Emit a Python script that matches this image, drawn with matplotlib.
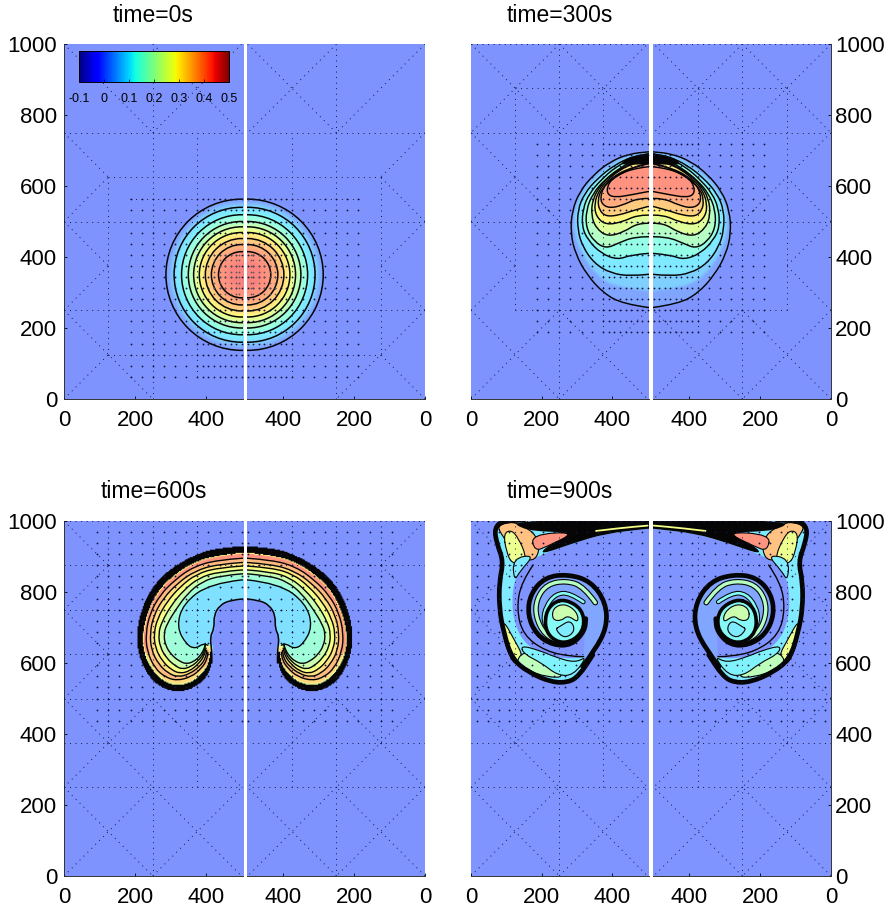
import numpy as np
import matplotlib
matplotlib.use('Agg')
import matplotlib.pyplot as plt
from matplotlib.path import Path
from matplotlib.patches import PathPatch, Circle
from matplotlib.cm import ScalarMappable
from matplotlib.colors import Normalize

plt.rcParams['font.family'] = ['Liberation Sans', 'DejaVu Sans']

FIG_W, FIG_H = 889, 914
jet = plt.get_cmap('jet')
norm = Normalize(-0.1, 0.5)

titles = ['time=0s', 'time=300s', 'time=600s', 'time=900s']
y_ticks = [0, 200, 400, 600, 800, 1000]
x_ticks = [0, 200, 400]
cbar_ticks = [-0.1, 0, 0.1, 0.2, 0.3, 0.4, 0.5]
cbar_labels = ['-0.1', '0', '0.1', '0.2', '0.3', '0.4', '0.5']

# time=0s, concentric contours around the bubble centre
p1_center = (500, 350)
p1_radii = [213, 190, 169, 150, 135, 119, 102, 85, 65]
p1_shade_radii = [213, 202, 190, 169, 150, 135, 119, 102, 85, 65, 40]
p1_shade_values = [0.02, 0.06, 0.1, 0.15, 0.2, 0.26, 0.31, 0.35, 0.39, 0.42, 0.44]

# time=300s, contours from bottom of the bubble up and back to the top (x=500 both ends)
p2_k0 = [(500,258),(430,268),(375,298),(328,350),(296,408),(282,467),(286,530),(308,585),(347,632),(396,670),(450,691),(500,696)]
p2_shade = [(500,305),(425,312),(372,335),(332,378),(305,430),(292,472),(292,528),(314,582),(353,626),(400,664),(452,686),(500,693)]
p2_k1 = [(500,351),(453,346),(396,354),(349,382),(316,429),(302,476),(302,532),(321,579),(359,622),(406,659),(453,681),(500,690)]
p2_k2 = [(500,410),(453,406),(415,392),(368,410),(331,448),(314,485),(317,537),(335,579),(368,617),(410,654),(457,678),(500,687)]
p2_k3 = [(500,457),(462,457),(415,438),(382,424),(349,443),(326,481),(326,532),(345,579),(378,617),(420,650),(462,673),(500,685)]
p2_k4 = [(500,495),(471,495),(434,471),(387,457),(354,481),(340,518),(345,565),(368,603),(396,631),(434,654),(471,671),(500,681)]
p2_k5 = [(500,518),(471,518),(429,499),(382,490),(354,514),(349,551),(363,589),(387,617),(420,645),(462,664),(500,675)]
p2_k6 = [(500,542),(462,532),(420,518),(382,514),(363,532),(359,561),(368,589),(396,617),(434,640),(471,656),(500,664)]
p2_k7 = [(500,565),(471,565),(429,546),(392,537),(368,551),(368,579),(382,607),(410,631),(443,647),(476,656),(500,662)]
p2_k8 = [(500,584),(453,575),(410,568),(387,575),(385,598),(401,622),(434,640),(471,650),(500,654)]
p2_contours = [p2_k0, p2_k1, p2_k2, p2_k3, p2_k4, p2_k5, p2_k6, p2_k7, p2_k8]
p2_shades = [p2_k0, p2_shade, p2_k1, p2_k2, p2_k3, p2_k4, p2_k5, p2_k6, p2_k7, p2_k8]
p2_values = [0.02, 0.07, 0.1, 0.14, 0.19, 0.25, 0.3, 0.35, 0.39, 0.42]
p2_cap = [(500,692),(450,685),(424,664),(432,660),(470,660),(500,662)]

# time=600s, crescent contours from the top centre round to the lobe tip
p3_c0 = [(500,929),(430,925),(364,904),(298,866),(251,820),(218,758),(202,683),(209,618),(237,561),(270,531),(317,517),(364,528),(402,561),(416,599),(416,640)]
p3_c1 = [(500,911),(430,904),(364,885),(307,848),(261,801),(234,744),(219,683),(223,627),(246,580),(279,547),(317,535),(359,545),(392,575),(406,599),(410,630)]
p3_c2 = [(500,895),(430,890),(364,871),(312,834),(270,791),(242,740),(230,683),(234,632),(256,585),(284,561),(317,550),(359,561),(387,585),(402,608),(405,630)]
p3_c3 = [(500,883),(430,878),(368,859),(320,825),(280,783),(252,733),(242,683),(246,636),(266,597),(293,571),(322,560),(355,570),(382,590),(398,612),(402,635)]
p3_c4 = [(500,873),(430,868),(372,850),(328,816),(290,773),(263,725),(253,683),(257,642),(277,605),(302,581),(327,570),(355,578),(378,597),(394,618),(400,642)]
p3_c5 = [(500,862),(435,857),(380,840),(338,806),(302,763),(275,715),(266,683),(270,646),(289,613),(313,592),(333,582),(358,590),(378,606),(393,626),(398,650)]
p3_c6 = [(500,851),(440,846),(388,829),(348,796),(315,751),(290,710),(281,683),(285,650),(303,622),(325,605),(345,597),(365,604),(382,618),(395,640),(398,655)]
p3_c7 = [(500,834),(411,824),(336,768),(317,702),(345,651),(370,640),(392,655),(405,650)]
p3_contours = [p3_c1, p3_c2, p3_c3, p3_c4, p3_c5, p3_c6, p3_c7]
p3_values = [0.42, 0.37, 0.32, 0.28, 0.22, 0.16, 0.09]
p3_hollow = [(500,780),(468,777),(439,763),(422,735),(423,697),(411,674),(416,636),(416,600)]
p3_lobe = [(223,627),(246,580),(279,547),(317,535),(359,545),(392,575),(406,599),(392,590),(359,561),(317,550),(284,561),(256,585),(234,632)]

# time=900s, sheet along the top and left wall, then the roll-up
p4_body = [(500,1000),(335,998),(194,998),(91,1000),(66,980),(73,937),(92,886),(80,829),(80,754),(92,688),(115,613),(162,574),(227,546),(275,545),(306,564),(345,623),
           (290,610),(204,623),(152,655),(124,707),(115,773),(124,839),(147,876),(194,904),(288,937),(382,965),(500,978)]
p4_outer = [(150,1002),(91,1002),(66,980),(73,937),(92,886),(80,829),(80,754),(92,688),(115,613),(162,574),(227,546),(275,545),(306,564),(345,623)]
p4_top_black = [(500,1003),(110,1006),(150,972),(290,968),(215,930),(194,904),(288,937),(382,965),(500,978)]
p4_red = [(170,962),(300,970),(215,928),(180,915)]
p4_orange = [(75,985),(110,1000),(150,985),(185,960),(195,915),(175,885),(130,900),(105,935),(85,965)]
p4_pale = [(92,965),(115,975),(135,950),(155,905),(150,880),(115,880),(100,915)]
p4_cyan_corner = [(118,895),(180,905),(140,860),(122,830)]
p4_left_yellow = [(92,720),(120,670),(150,615),(125,590),(100,640),(90,690)]
p4_bottom_green = [(125,600),(150,635),(200,610),(270,560),(215,560),(160,580)]
p4_bottom_cyan = [(140,650),(195,635),(235,618),(295,600),(330,620),(290,565),(245,565),(200,600),(150,625)]
p4_top_strip = [(354,972),(420,980),(500,987)]
p4_spine = [(316,590),(350,635),(385,700),(382,770),(340,830),(275,850),(210,842),(168,795),(160,735),(185,680),(232,650),(285,650),(322,690),(325,725)]
p4_green_arm = [(352,770),(320,815),(270,832),(215,822),(185,780),(183,730),(208,680),(250,660)]
p4_cyan_arm = [(318,772),(280,798),(240,795),(212,760),(204,720),(220,690),(250,680)]
p4_coil = [(267,780),(315,752),(322,700),(293,664),(250,655),(212,685),(210,738),(232,770)]
p4_swirl_green = [(232,755),(265,768),(300,745),(305,712),(274,735),(255,718),(230,722)]
p4_swirl_cyan = [(250,702),(282,722),(296,690),(265,668),(238,695)]
p4_tail = [(326,726),(321,688),(288,655),(237,655),(194,679)]
p4_thin = [(176,876),(143,829),(129,754),(147,679),(213,632),(288,618),(335,618)]

# adaptive mesh lines (dotted), one list per panel
p1_mesh = [((0,750),(500,750)),((125,625),(500,625)),((187,562),(500,562)),((0,500),(500,500)),((0,250),(500,250)),((125,125),(500,125)),
           ((250,0),(250,1000)),((125,125),(125,625)),((375,62),(375,750)),
           ((0,1000),(250,750)),((250,1000),(500,750)),((0,750),(125,625)),((0,500),(125,625)),((0,500),(125,375)),((0,250),(125,375)),
           ((0,250),(250,0)),((0,0),(125,125)),((250,750),(375,875)),((500,1000),(375,875))]
p2_mesh = [((125,875),(500,875)),((0,750),(500,750)),((0,500),(500,500)),((125,250),(500,250)),((0,1000),(500,1000)),
           ((250,0),(250,1000)),((125,250),(125,875)),((375,188),(375,875)),
           ((0,1000),(250,750)),((250,1000),(0,750)),((250,1000),(500,750)),((250,750),(500,1000)),((0,750),(250,500)),((0,500),(125,625)),
           ((0,500),(125,375)),((0,250),(125,375)),((0,0),(250,250)),((0,250),(250,0)),((250,0),(500,250)),((250,250),(500,0))]
p3_mesh = [((0,1000),(500,1000)),((0,875),(500,875)),((0,750),(500,750)),((0,625),(500,625)),((0,500),(500,500)),((0,375),(500,375)),((0,250),(500,250)),
           ((125,375),(125,1000)),((250,0),(250,1000)),((375,250),(375,1000)),
           ((0,250),(250,0)),((0,0),(250,250)),((250,0),(500,250)),((250,250),(500,0)),((0,500),(250,250)),((0,250),(250,500)),((250,500),(500,250)),
           ((0,1000),(125,875)),((0,750),(125,875)),((0,500),(125,625)),((0,750),(125,625))]
p4_mesh = p3_mesh

# mesh nodes, columns and rows
p1_node_x = [188,219,250,281,313,344,375,391,406,422,438,453,469,484,500]
p1_node_y = [63,94,125,156,188,219,250,281,313,344,375,406,438,469,500,531,562]
p1_core_x = [422,438,453,469,484,492]
p1_core_y = [297,313,328,344,359,375,391,406]
p2_node_x = [188,219,250,281,313,344,375,391,406,422,438,453,469,484,500]
p2_node_y = [188,219,250,281,313,344,375,406,438,469,500,531,562,594,625,656,688,719]
p3_node_x = [94,125,156,188,219,250,281,313,344,375,406,438,469,500]
p3_node_y = [437,469,500,531,562,594,625,656,688,719,750,781,813,844,875,906,938,969]
p4_node_x = [16,47,78,109,141,172,203,234,266,297,328,359,391,422,453,484]
p4_node_y = [437,469,500,531,562,594,625,656,688,719,750,781,813,844,875,906,938,969,1000]

BLACK = '#050505'
DOT = '#14143c'

# pixel grid behind the colour wash
grid_x = np.arange(0, 540, 3.0)
grid_y = np.arange(0, 1002, 3.0)
GX, GY = np.meshgrid(grid_x, grid_y)
GRID = np.column_stack([GX.ravel(), GY.ravel()])


def wash(v):
    # jet at half opacity over white
    r, g, b, _ = jet(norm(v))
    return (0.5 + r / 2, 0.5 + g / 2, 0.5 + b / 2)


def spline(points, closed=False, extend=False):
    # quadratic bezier through the midpoints, the points act as control points
    p = np.array(points, dtype=float)
    if closed:
        start = (p[-1] + p[0]) / 2
        verts, codes = [start], [Path.MOVETO]
        for i in range(len(p)):
            verts += [p[i], (p[i] + p[(i + 1) % len(p)]) / 2]
            codes += [Path.CURVE3, Path.CURVE3]
        return verts, codes
    verts, codes = [p[0]], [Path.MOVETO]
    if extend:
        verts, codes = [np.array([515.0, p[0][1]]), p[0]], [Path.MOVETO, Path.LINETO]
    for i in range(1, len(p) - 1):
        verts += [p[i], (p[i] + p[i + 1]) / 2]
        codes += [Path.CURVE3, Path.CURVE3]
    verts.append(p[-1])
    codes.append(Path.LINETO)
    if extend and p[-1][0] >= 500:
        verts.append(np.array([515.0, p[-1][1]]))
        codes.append(Path.LINETO)
    return verts, codes


def region(points, closed=False):
    verts, codes = spline(points, closed=closed, extend=not closed)
    if not closed:
        verts = verts + [np.array([515.0, points[-1][1]]), verts[0]]
        codes = codes + [Path.LINETO, Path.CLOSEPOLY]
    return Path(verts, codes)


def inside(points, closed=False):
    return region(points, closed).contains_points(GRID).reshape(GX.shape)


def fill(ax, points, color, closed=False, zorder=2):
    ax.add_patch(PathPatch(region(points, closed), facecolor=color, edgecolor='none', zorder=zorder))


def stroke(ax, points, lw=1.0, color=BLACK, closed=False, zorder=3):
    verts, codes = spline(points, closed=closed, extend=not closed and points[0][0] >= 500)
    ax.add_patch(PathPatch(Path(verts, codes), facecolor='none', edgecolor=color, lw=lw, zorder=zorder, capstyle='round'))


def polygon(ax, points, color, zorder=4, edge=0.8):
    fill(ax, points, color, closed=True, zorder=zorder)
    stroke(ax, points, lw=edge, closed=True, zorder=zorder)


def show_field(ax, field, kernel, black=None):
    # soften the band edges, then paint jet at half opacity
    k = np.array(kernel, dtype=float)
    k /= k.sum()
    for axis in (0, 1):
        field = np.apply_along_axis(lambda s: np.convolve(s, k, mode='same'), axis, field)
    rgb = 0.5 + jet(norm(field))[..., :3] / 2
    if black is not None:
        rgb[black] = 0.02
    ax.imshow(rgb, origin='lower', extent=(grid_x[0], grid_x[-1], grid_y[0], grid_y[-1]), aspect='auto', interpolation='bilinear', zorder=1)


def draw_mesh(ax, segments, columns, rows):
    for a, b in segments:
        ax.plot([a[0], b[0]], [a[1], b[1]], color=DOT, lw=0.7, ls=(0, (1, 4.7)), zorder=5)
    xx, yy = np.meshgrid(columns, rows)
    ax.scatter(xx.ravel(), yy.ravel(), s=1.7, color=DOT, linewidths=0, zorder=5)


def draw_p1(ax):
    field = np.zeros(GX.shape)
    for r, v in zip(p1_shade_radii, p1_shade_values):
        field[np.hypot(GX - p1_center[0], GY - p1_center[1]) <= r] = v
    show_field(ax, field, [1, 2, 3, 4, 3, 2, 1])
    for r in p1_radii:
        ax.add_patch(Circle(p1_center, r, facecolor='none', edgecolor=BLACK, lw=1.1, zorder=3))
    draw_mesh(ax, p1_mesh, p1_node_x, p1_node_y)
    xx, yy = np.meshgrid(p1_core_x, p1_core_y)
    ax.scatter(xx.ravel(), yy.ravel(), s=1.5, color='#555555', linewidths=0, zorder=5)


def draw_p2(ax):
    field = np.zeros(GX.shape)
    for c, v in zip(p2_shades, p2_values):
        field[inside(c)] = v
    show_field(ax, field, [1, 2, 3, 2, 1])
    fill(ax, p2_cap, BLACK, zorder=3)
    for c in p2_contours:
        stroke(ax, c, lw=1.05)
    draw_mesh(ax, p2_mesh, p2_node_x, p2_node_y)


def draw_p3(ax):
    field = np.zeros(GX.shape)
    for c, v in zip(p3_contours, p3_values):
        field[inside(c)] = v
    field[inside(p3_lobe, closed=True)] = 0.33
    hollow = inside(p3_hollow)
    field[hollow] = 0
    # the outer wall is packed with contours, so it reads as solid black
    wall = inside(p3_c0) & ~inside(p3_c1) & ~hollow
    show_field(ax, field, [1, 2, 1], black=wall)
    for c in p3_contours[1:]:
        stroke(ax, c, lw=1.0)
    stroke(ax, p3_hollow, lw=1.1)
    draw_mesh(ax, p3_mesh, p3_node_x, p3_node_y)


def draw_p4(ax):
    fill(ax, p4_body, wash(0.1))
    polygon(ax, p4_orange, wash(0.36))
    polygon(ax, p4_pale, wash(0.27))
    polygon(ax, p4_cyan_corner, wash(0.1))
    polygon(ax, p4_left_yellow, wash(0.27))
    polygon(ax, p4_bottom_green, wash(0.2))
    polygon(ax, p4_bottom_cyan, wash(0.11))
    fill(ax, p4_top_black, BLACK, zorder=4)
    polygon(ax, p4_red, wash(0.42))
    stroke(ax, p4_outer, lw=3.4, zorder=4)
    stroke(ax, p4_top_strip, lw=1.3, color=wash(0.28), zorder=4)
    stroke(ax, p4_thin, lw=1.0, zorder=4)
    # roll-up
    fill(ax, p4_spine, wash(0.02), closed=True, zorder=6)
    stroke(ax, p4_spine, lw=3.4, zorder=6)
    stroke(ax, p4_green_arm, lw=4.0, zorder=6)
    stroke(ax, p4_green_arm, lw=2.4, color=wash(0.19), zorder=6)
    stroke(ax, p4_cyan_arm, lw=3.4, zorder=6)
    stroke(ax, p4_cyan_arm, lw=1.9, color=wash(0.12), zorder=6)
    stroke(ax, p4_tail, lw=1.0, zorder=6)
    fill(ax, p4_coil, wash(0.12), closed=True, zorder=6)
    stroke(ax, p4_coil, lw=2.6, closed=True, zorder=6)
    polygon(ax, p4_swirl_green, wash(0.22), zorder=6)
    polygon(ax, p4_swirl_cyan, wash(0.1), zorder=6)
    draw_mesh(ax, p4_mesh, p4_node_x, p4_node_y)


def add_axes(left, right, top, bottom):
    return plt.gcf().add_axes([left / FIG_W, 1 - bottom / FIG_H, (right - left) / FIG_W, (bottom - top) / FIG_H])


def style(ax, xlim, side):
    ax.set_xlim(*xlim)
    ax.set_ylim(0, 1000)
    ax.set_facecolor(wash(0))
    ax.set_xticks(x_ticks)
    ax.tick_params(axis='both', direction='in', length=2.5, width=0.6, labelsize=16)
    ax.tick_params(axis='x', pad=8)
    for s in ax.spines.values():
        s.set_visible(False)
    ax.spines['bottom'].set_visible(True)
    ax.spines['bottom'].set_linewidth(0.7)
    ax.spines['bottom'].set_color('#333333')
    if side == 'left':
        ax.set_yticks(y_ticks)
        ax.tick_params(axis='y', pad=5)
        ax.spines['left'].set_visible(True)
        ax.spines['left'].set_color('#333333')
        ax.spines['left'].set_linewidth(0.7)
    elif side == 'right':
        ax.yaxis.tick_right()
        ax.set_yticks(y_ticks)
        ax.tick_params(axis='y', pad=3)
        ax.spines['right'].set_visible(True)
        ax.spines['right'].set_color('#333333')
        ax.spines['right'].set_linewidth(0.7)
    else:
        ax.set_yticks([])


fig = plt.figure(figsize=(FIG_W / 100, FIG_H / 100), dpi=100)

panels = [
    (64, 243, 247, 425, 44, 399, draw_p1, 'left', 153.5, 15),
    (471, 649, 653, 831, 44, 399, draw_p2, 'right', 560, 16),
    (64, 243, 247, 425, 521, 876, draw_p3, 'left', 153.5, 492),
    (471, 649, 653, 831, 521, 876, draw_p4, 'right', 560, 492),
]
for (l0, l1, r0, r1, top, bottom, painter, side, tx, ty), title in zip(panels, titles):
    ax_l = add_axes(l0, l1, top, bottom)
    ax_r = add_axes(r0, r1, top, bottom)
    style(ax_l, (0, 504), side if side == 'left' else None)
    style(ax_r, (502, 0), side if side == 'right' else None)
    painter(ax_l)
    painter(ax_r)
    fig.text(tx / FIG_W, 1 - ty / FIG_H, title, fontsize=16.5, ha='center', va='center')

# colour bar sitting in the first panel
cax = add_axes(79, 229, 51, 82)
cb = fig.colorbar(ScalarMappable(norm=norm, cmap=jet), cax=cax, orientation='horizontal', ticks=cbar_ticks)
cb.ax.set_xticklabels(cbar_labels)
cb.ax.tick_params(labelsize=9, length=2, width=0.5, direction='in', pad=8)
cb.outline.set_linewidth(0.7)

fig.savefig('out.png', dpi=100)
